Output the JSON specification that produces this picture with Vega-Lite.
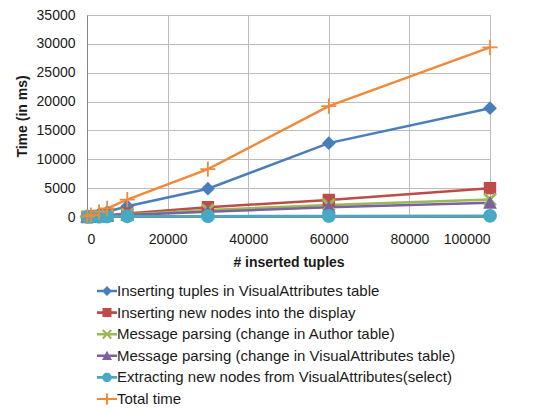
{
  "$schema": "https://vega.github.io/schema/vega-lite/v6.json",
  "width": 403,
  "height": 202,
  "autosize": {"type": "none"},
  "padding": {"left": 87, "top": 15, "right": 62, "bottom": 192},
  "background": "white",
  "config": {
    "font": "Liberation Sans",
    "view": {"stroke": "#a6a6a6", "strokeWidth": 1},
    "axis": {
      "labelFont": "Liberation Sans",
      "labelFontSize": 14,
      "labelColor": "#1a1a1a",
      "titleFont": "Liberation Sans",
      "titleFontSize": 14,
      "titleFontWeight": "bold",
      "titleColor": "#1a1a1a",
      "gridColor": "#bcbcbc",
      "gridWidth": 1,
      "domainColor": "#868686",
      "ticks": false
    },
    "legend": {
      "labelFont": "Liberation Sans",
      "labelFontSize": 15,
      "labelColor": "#1a1a1a",
      "labelLimit": 500
    }
  },
  "data": {
    "values": [
      {"series": "Inserting tuples in VisualAttributes table", "x": 100, "y": 40},
      {"series": "Inserting tuples in VisualAttributes table", "x": 1000, "y": 150},
      {"series": "Inserting tuples in VisualAttributes table", "x": 3000, "y": 500},
      {"series": "Inserting tuples in VisualAttributes table", "x": 5000, "y": 900},
      {"series": "Inserting tuples in VisualAttributes table", "x": 10000, "y": 1850},
      {"series": "Inserting tuples in VisualAttributes table", "x": 30000, "y": 4900},
      {"series": "Inserting tuples in VisualAttributes table", "x": 60000, "y": 12800},
      {"series": "Inserting tuples in VisualAttributes table", "x": 100000, "y": 18850},
      {"series": "Inserting new nodes into the display", "x": 100, "y": 10},
      {"series": "Inserting new nodes into the display", "x": 1000, "y": 60},
      {"series": "Inserting new nodes into the display", "x": 3000, "y": 180},
      {"series": "Inserting new nodes into the display", "x": 5000, "y": 300},
      {"series": "Inserting new nodes into the display", "x": 10000, "y": 600},
      {"series": "Inserting new nodes into the display", "x": 30000, "y": 1700},
      {"series": "Inserting new nodes into the display", "x": 60000, "y": 2950},
      {"series": "Inserting new nodes into the display", "x": 100000, "y": 5000},
      {"series": "Message parsing (change in Author table)", "x": 100, "y": 10},
      {"series": "Message parsing (change in Author table)", "x": 1000, "y": 50},
      {"series": "Message parsing (change in Author table)", "x": 3000, "y": 150},
      {"series": "Message parsing (change in Author table)", "x": 5000, "y": 250},
      {"series": "Message parsing (change in Author table)", "x": 10000, "y": 450},
      {"series": "Message parsing (change in Author table)", "x": 30000, "y": 1200},
      {"series": "Message parsing (change in Author table)", "x": 60000, "y": 2100},
      {"series": "Message parsing (change in Author table)", "x": 100000, "y": 3050},
      {"series": "Message parsing (change in VisualAttributes table)", "x": 100, "y": 10},
      {"series": "Message parsing (change in VisualAttributes table)", "x": 1000, "y": 40},
      {"series": "Message parsing (change in VisualAttributes table)", "x": 3000, "y": 120},
      {"series": "Message parsing (change in VisualAttributes table)", "x": 5000, "y": 200},
      {"series": "Message parsing (change in VisualAttributes table)", "x": 10000, "y": 350},
      {"series": "Message parsing (change in VisualAttributes table)", "x": 30000, "y": 900},
      {"series": "Message parsing (change in VisualAttributes table)", "x": 60000, "y": 1700},
      {"series": "Message parsing (change in VisualAttributes table)", "x": 100000, "y": 2450},
      {"series": "Extracting new nodes from VisualAttributes(select)", "x": 100, "y": 5},
      {"series": "Extracting new nodes from VisualAttributes(select)", "x": 1000, "y": 30},
      {"series": "Extracting new nodes from VisualAttributes(select)", "x": 3000, "y": 60},
      {"series": "Extracting new nodes from VisualAttributes(select)", "x": 5000, "y": 100},
      {"series": "Extracting new nodes from VisualAttributes(select)", "x": 10000, "y": 130},
      {"series": "Extracting new nodes from VisualAttributes(select)", "x": 30000, "y": 150},
      {"series": "Extracting new nodes from VisualAttributes(select)", "x": 60000, "y": 180},
      {"series": "Extracting new nodes from VisualAttributes(select)", "x": 100000, "y": 200},
      {"series": "Total time", "x": 100, "y": 100},
      {"series": "Total time", "x": 1000, "y": 350},
      {"series": "Total time", "x": 3000, "y": 900},
      {"series": "Total time", "x": 5000, "y": 1500},
      {"series": "Total time", "x": 10000, "y": 3000},
      {"series": "Total time", "x": 30000, "y": 8300},
      {"series": "Total time", "x": 60000, "y": 19200},
      {"series": "Total time", "x": 100000, "y": 29400}
    ]
  },
  "encoding": {
    "x": {
      "field": "x", "type": "quantitative",
      "title": "# inserted tuples",
      "scale": {"domain": [0, 100000], "nice": false},
      "axis": {"values": [0, 20000, 40000, 60000, 80000, 100000], "format": "d", "labelPadding": 15, "titlePadding": 9}
    },
    "y": {
      "field": "y", "type": "quantitative",
      "title": "Time (in ms)",
      "scale": {"domain": [0, 35000], "nice": false},
      "axis": {"values": [0, 5000, 10000, 15000, 20000, 25000, 30000, 35000], "format": "d", "labelPadding": 12, "titlePadding": 7}
    }
  },
  "layer": [
    {
      "mark": {"type": "line", "strokeWidth": 2.5},
      "encoding": {
        "color": {
          "field": "series", "type": "nominal", "legend": null,
          "scale": {
            "domain": ["Inserting tuples in VisualAttributes table", "Inserting new nodes into the display", "Message parsing (change in Author table)", "Message parsing (change in VisualAttributes table)", "Extracting new nodes from VisualAttributes(select)", "Total time"],
            "range": ["#4a7ebb", "#be4b48", "#98b954", "#7d60a0", "#46aac5", "#f08a3a"]
          }
        },
        "order": {"field": "x"}
      }
    },
    {
      "mark": {"type": "point", "filled": true, "opacity": 1, "size": 190, "strokeWidth": 0},
      "encoding": {
        "color": {
          "field": "series", "type": "nominal", "legend": null,
          "scale": {
            "domain": ["Inserting tuples in VisualAttributes table", "Inserting new nodes into the display", "Message parsing (change in Author table)", "Message parsing (change in VisualAttributes table)", "Extracting new nodes from VisualAttributes(select)", "Total time"],
            "range": ["#4a7ebb", "#be4b48", "#98b954", "#7d60a0", "#46aac5", "#f08a3a"]
          }
        },
        "shape": {
          "field": "series", "type": "nominal", "legend": null,
          "scale": {
            "domain": ["Inserting tuples in VisualAttributes table", "Inserting new nodes into the display", "Message parsing (change in Author table)", "Message parsing (change in VisualAttributes table)", "Extracting new nodes from VisualAttributes(select)", "Total time"],
            "range": [
              "M0,-1L1,0L0,1L-1,0Z",
              "M-0.9,-0.9H0.9V0.9H-0.9Z",
              "M-1,-0.7L-0.7,-1L0,-0.3L0.7,-1L1,-0.7L0.3,0L1,0.7L0.7,1L0,0.3L-0.7,1L-1,0.7L-0.3,0Z",
              "M0,-1L1,0.85H-1Z",
              "M1,0A1,1,0,1,1,-1,0A1,1,0,1,1,1,0Z",
              "M-1.1,-0.13H-0.13V-1.1H0.13V-0.13H1.1V0.13H0.13V1.1H-0.13V0.13H-1.1Z"
            ]
          }
        }
      }
    },
    {
      "transform": [{"filter": "datum.x < 0"}],
      "mark": {"type": "point", "filled": true, "opacity": 1, "strokeWidth": 0},
      "encoding": {
        "color": {
          "field": "series", "type": "nominal", "title": null,
          "scale": {
            "domain": ["Inserting tuples in VisualAttributes table", "Inserting new nodes into the display", "Message parsing (change in Author table)", "Message parsing (change in VisualAttributes table)", "Extracting new nodes from VisualAttributes(select)", "Total time"],
            "range": ["#4a7ebb", "#be4b48", "#98b954", "#7d60a0", "#46aac5", "#f08a3a"]
          },
          "legend": {"orient": "none", "legendX": 10, "legendY": 266, "symbolSize": 400, "symbolStrokeWidth": 0, "labelOffset": 0, "rowPadding": 3.6, "direction": "vertical"}
        },
        "shape": {
          "field": "series", "type": "nominal", "title": null,
          "scale": {
            "domain": ["Inserting tuples in VisualAttributes table", "Inserting new nodes into the display", "Message parsing (change in Author table)", "Message parsing (change in VisualAttributes table)", "Extracting new nodes from VisualAttributes(select)", "Total time"],
            "range": [
              "M-1,-0.13H1V0.13H-1Z M0,-0.5L0.5,0L0,0.5L-0.5,0Z",
              "M-1,-0.13H1V0.13H-1Z M-0.45,-0.45H0.45V0.45H-0.45Z",
              "M-1,-0.13H1V0.13H-1Z M-0.5,-0.35L-0.35,-0.5L0,-0.15L0.35,-0.5L0.5,-0.35L0.15,0L0.5,0.35L0.35,0.5L0,0.15L-0.35,0.5L-0.5,0.35L-0.15,0Z",
              "M-1,-0.13H1V0.13H-1Z M0,-0.5L0.5,0.42H-0.5Z",
              "M-1,-0.13H1V0.13H-1Z M0.47,0A0.47,0.47,0,1,1,-0.47,0A0.47,0.47,0,1,1,0.47,0Z",
              "M-1,-0.1H1V0.1H-1Z M-0.1,-0.55H0.1V0.55H-0.1Z"
            ]
          },
          "legend": {"orient": "none", "legendX": 10, "legendY": 266, "symbolSize": 400, "symbolStrokeWidth": 0, "labelOffset": 0, "rowPadding": 3.6, "direction": "vertical"}
        }
      }
    }
  ],
  "resolve": {"scale": {"color": "independent", "shape": "independent"}}
}
